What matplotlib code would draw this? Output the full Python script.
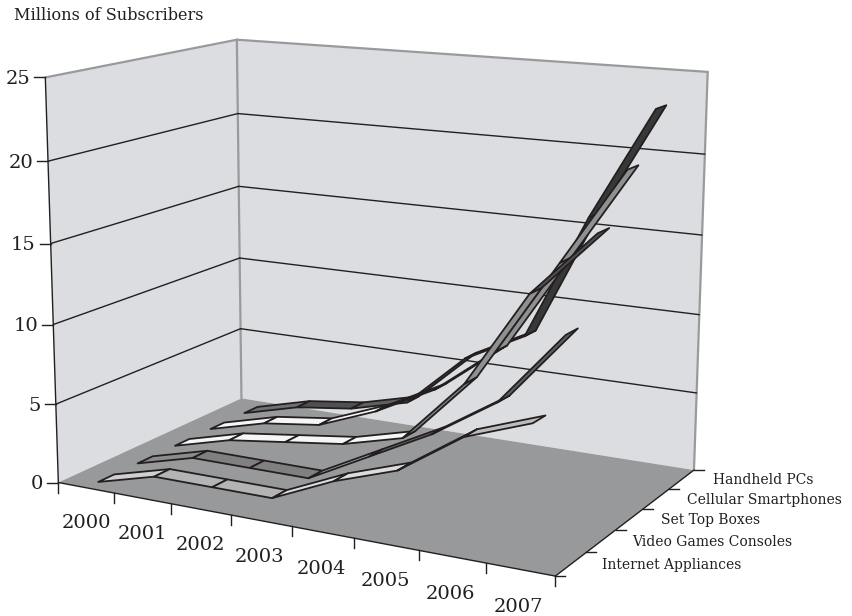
import matplotlib
matplotlib.use("Agg")
import matplotlib.pyplot as plt
from matplotlib.patches import Polygon
import numpy as np

years = ["2000", "2001", "2002", "2003", "2004", "2005", "2006", "2007"]
series_names = ["Internet Appliances", "Video Games Consoles", "Set Top Boxes",
                "Cellular Smartphones", "Handheld PCs"]
value_ticks = [0, 5, 10, 15, 20, 25]

internet_appliances = [0, 1, 1, 1, 2.7, 4, 6.6, 8]
video_games = [0, 1, 1, 1, 3, 5, 7.5, 12]
set_top_boxes = [0, 1, 1.5, 2, 3, 7, 13, 17]
cellular = [0, 1, 1.5, 3, 5, 8, 14, 20]
handheld = [0, 1, 1.5, 2.5, 6, 8, 16, 23]
all_series = [internet_appliances, video_games, set_top_boxes, cellular, handheld]

fills = [["#d0d0d0", "#b4b4b4", "#b4b4b4", "#dcdcdc", "#dcdcdc", "#dcdcdc", "#bcbcbc"],
         ["#8c8c8c", "#808080", "#808080", "#b0b0b0", "#707070", "#707070", "#606060"],
         ["#f6f6f6", "#f6f6f6", "#f6f6f6", "#f6f6f6", "#808080", "#909090", "#505050"],
         ["#f6f6f6", "#f6f6f6", "#f6f6f6", "#f6f6f6", "#505050", "#909090", "#909090"],
         ["#707070", "#505050", "#606060", "#404040", "#606060", "#383838", "#383838"]]

# wall corners of the box, used to get the camera matrix
world = [(0, 0, 0), (0, 0, 25), (0, 5, 0), (0, 5, 25), (8, 0, 0), (8, 5, 0), (8, 5, 25)]
image = [(58, 483), (46, 77), (242, 398), (236, 40), (555, 576), (694, 470), (708, 72)]


def get_camera(world, image):
    rows = []
    for (x, y, z), (a, b) in zip(world, image):
        rows.append([x, y, z, 1, 0, 0, 0, 0, -a * x, -a * y, -a * z, -a])
        rows.append([0, 0, 0, 0, x, y, z, 1, -b * x, -b * y, -b * z, -b])
    return np.linalg.svd(np.array(rows, dtype=float))[2][-1].reshape(3, 4)


cam = get_camera(world, image)


def proj(x, y, z):
    p = cam @ np.array([x, y, z, 1.0])
    return p[0] / p[2], p[1] / p[2]


def quad(ax, pts, fc, ec="none", lw=0, z=1):
    ax.add_patch(Polygon([proj(*p) for p in pts], closed=True, fc=fc, ec=ec, lw=lw, zorder=z,
                         joinstyle="round"))


def seg(ax, p1, p2, color, lw, z=2):
    a, b = proj(*p1), proj(*p2)
    ax.plot([a[0], b[0]], [a[1], b[1]], color=color, lw=lw, zorder=z, solid_capstyle="round")


plt.rcParams["font.family"] = ["DejaVu Serif"]
fig = plt.figure(figsize=(8.53, 6.16), dpi=100)
ax = fig.add_axes([0, 0, 1, 1])
ax.set_xlim(0, 853)
ax.set_ylim(616, 0)
ax.axis("off")

wall = "#dcdde0"
floor = "#98999b"
edge = "#999a9c"
ink = "#231f20"

quad(ax, [(0, 0, 0), (0, 5, 0), (0, 5, 25), (0, 0, 25)], wall)
quad(ax, [(0, 5, 0), (8, 5, 0), (8, 5, 25), (0, 5, 25)], wall)
quad(ax, [(0, 0, 0), (8, 0, 0), (8, 5, 0), (0, 5, 0)], floor)

seg(ax, (0, 0, 25), (0, 5, 25), edge, 1.6)
seg(ax, (0, 5, 25), (8, 5, 25), edge, 1.6)
seg(ax, (0, 5, 0), (0, 5, 25), edge, 1.6)
seg(ax, (8, 5, 0), (8, 5, 25), edge, 1.6)
for v in value_ticks[1:-1]:
    seg(ax, (0, 0, v), (0, 5, v), ink, 1.0)
    seg(ax, (0, 5, v), (8, 5, v), ink, 1.0)
seg(ax, (0, 0, 0), (0, 0, 25), ink, 1.0)
seg(ax, (0, 0, 0), (8, 0, 0), ink, 1.0)
seg(ax, (8, 0, 0), (8, 5, 0), ink, 1.0)

# ticks and labels
for v in value_ticks:
    a = proj(0, 0, v)
    ax.plot([a[0] - 11, a[0]], [a[1], a[1]], color=ink, lw=1.0)
    ax.text(a[0] - 15, a[1] + 1.5, str(v), ha="right", va="center", fontsize=14, color=ink)
for i in range(len(years) + 1):
    a = proj(i, 0, 0)
    ax.plot([a[0], a[0]], [a[1], a[1] + 10], color=ink, lw=1.0)
for i, year in enumerate(years):
    a = proj(i + 0.5, 0, 0)
    ax.text(a[0] - 0.3 * i, a[1] + 35 + 0.35 * i, year, ha="center", va="center", fontsize=14, color=ink)
for i in range(len(series_names) + 1):
    a = proj(8, i, 0)
    ax.plot([a[0], a[0] + 10], [a[1], a[1]], color=ink, lw=1.0)
for i, name in enumerate(series_names):
    a = proj(8, i + 0.5, 0)
    ax.text(a[0] + 31, a[1] + 1, name, ha="left", va="center", fontsize=10, color=ink)
ax.text(14, 15, "Millions of Subscribers", ha="left", va="center", fontsize=11.6, color=ink)

# ribbons, back series first
half = 0.2
order = 3
for s in range(len(all_series) - 1, -1, -1):
    vals = all_series[s]
    for i in range(len(vals) - 1):
        pts = [(i + 0.5, s + 0.5 - half, vals[i]), (i + 1.5, s + 0.5 - half, vals[i + 1]),
               (i + 1.5, s + 0.5 + half, vals[i + 1]), (i + 0.5, s + 0.5 + half, vals[i])]
        quad(ax, pts, fills[s][i], ec=ink, lw=1.3, z=order)
        order += 1

fig.savefig("out.png", dpi=100)
